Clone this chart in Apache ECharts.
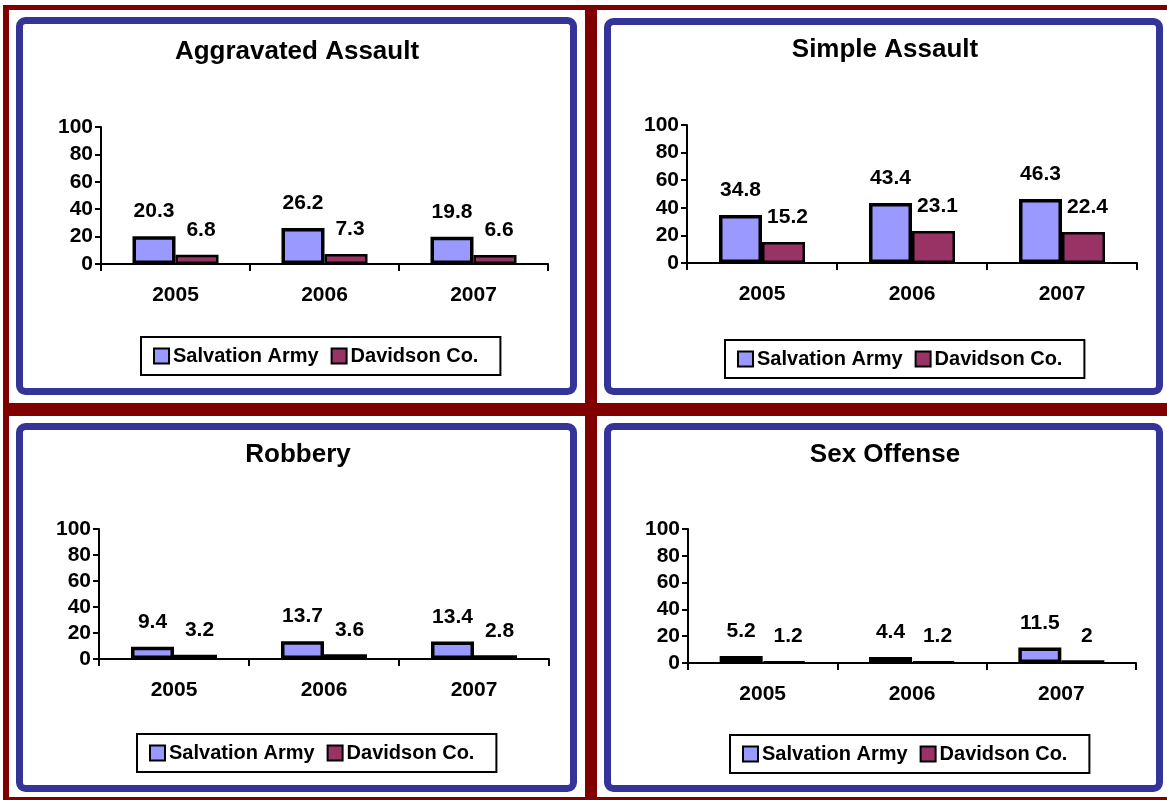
<!DOCTYPE html>
<html>
<head>
<meta charset="utf-8">
<script src="https://cdn.jsdelivr.net/npm/echarts@6/dist/echarts.min.js"></script>
<style>
html,body{margin:0;padding:0;background:#fff;}
#c{width:1167px;height:800px;}
</style>
</head>
<body>
<div id="c"></div>
<script>
// ---- data ----
const categories = ['2005', '2006', '2007'];
const seriesNames = ['Salvation Army', 'Davidson Co.'];
const chartTitles = ['Aggravated Assault', 'Simple Assault', 'Robbery', 'Sex Offense'];
const aggravatedSA = [20.3, 26.2, 19.8];
const aggravatedDC = [6.8, 7.3, 6.6];
const simpleSA = [34.8, 43.4, 46.3];
const simpleDC = [15.2, 23.1, 22.4];
const robberySA = [9.4, 13.7, 13.4];
const robberyDC = [3.2, 3.6, 2.8];
const sexSA = [5.2, 4.4, 11.5];
const sexDC = [1.2, 1.2, 2];
const yMin = 0, yMax = 100, yStep = 20;

// ---- layout ----
const FONT = '"Liberation Sans", Arial, sans-serif';
const RED = '#800000';
const BLUE = '#333399';
const SA_COLOR = '#9999FF';
const DC_COLOR = '#993366';

const panels = [
  {box: [16, 17, 577, 395], title: [297, 52], grid: {left: 101, top: 127, width: 447, height: 137}, legend: {left: 141, top: 337}, sa: aggravatedSA, dc: aggravatedDC},
  {box: [604, 18, 1163, 395], title: [885, 50], grid: {left: 687, top: 125, width: 450, height: 138}, legend: {left: 725, top: 340}, sa: simpleSA, dc: simpleDC},
  {box: [16, 423, 577, 792], title: [298, 455], grid: {left: 99, top: 529, width: 450, height: 130}, legend: {left: 137, top: 734}, sa: robberySA, dc: robberyDC},
  {box: [604, 423, 1163, 792], title: [885, 455], grid: {left: 688, top: 529, width: 448, height: 134}, legend: {left: 730, top: 735}, sa: sexSA, dc: sexDC}
];

const graphics = [];
// dark red frame lines
graphics.push({type: 'rect', shape: {x: 3, y: 5, width: 1164, height: 5}, style: {fill: RED}, z: 0});
graphics.push({type: 'rect', shape: {x: 3, y: 5, width: 6, height: 795}, style: {fill: RED}, z: 0});
graphics.push({type: 'rect', shape: {x: 585, y: 5, width: 12, height: 795}, style: {fill: RED}, z: 0});
graphics.push({type: 'rect', shape: {x: 3, y: 403, width: 1164, height: 13}, style: {fill: RED}, z: 0});
graphics.push({type: 'rect', shape: {x: 3, y: 797, width: 1164, height: 3}, style: {fill: RED}, z: 0});

const grids = [], xAxes = [], yAxes = [], series = [], legends = [];
panels.forEach((p, i) => {
  const [x1, y1, x2, y2] = p.box;
  graphics.push({type: 'rect', shape: {x: x1 + 3.5, y: y1 + 3.5, width: x2 - x1 - 7, height: y2 - y1 - 7, r: 6},
    style: {fill: '#fff', stroke: BLUE, lineWidth: 7}, z: 0});
  graphics.push({type: 'text', x: p.title[0], y: p.title[1], z: 1,
    style: {text: chartTitles[i], fill: '#000', font: 'bold 26px ' + FONT, textAlign: 'center', textVerticalAlign: 'middle'}});
  grids.push(Object.assign({containLabel: false}, p.grid));
  xAxes.push({type: 'category', gridIndex: i, data: categories,
    axisLine: {lineStyle: {color: '#000', width: 2}},
    axisTick: {show: true, length: 7, lineStyle: {color: '#000', width: 2}},
    axisLabel: {color: '#000', fontFamily: FONT, fontWeight: 'bold', fontSize: 21, margin: 21},
    splitLine: {show: false}});
  yAxes.push({type: 'value', gridIndex: i, min: yMin, max: yMax, interval: yStep,
    axisLine: {show: true, lineStyle: {color: '#000', width: 2}},
    axisTick: {show: true, length: 6, lineStyle: {color: '#000', width: 2}},
    axisLabel: {color: '#000', fontFamily: FONT, fontWeight: 'bold', fontSize: 21, margin: 8},
    splitLine: {show: false}});
  const lbl = {show: true, position: 'top', distance: 14, color: '#000', fontFamily: FONT, fontWeight: 'bold', fontSize: 21};
  series.push({type: 'bar', name: seriesNames[0], xAxisIndex: i, yAxisIndex: i, data: p.sa,
    barWidth: 43, barGap: '0%',
    itemStyle: {color: SA_COLOR, borderColor: '#000', borderWidth: 3.5},
    label: lbl, emphasis: {disabled: true}});
  series.push({type: 'bar', name: seriesNames[1], xAxisIndex: i, yAxisIndex: i, data: p.dc,
    barWidth: 43, barGap: '0%',
    itemStyle: {color: DC_COLOR, borderColor: '#000', borderWidth: 2.5},
    label: Object.assign({}, lbl, {offset: [4, 0]}), emphasis: {disabled: true}});
  legends.push({left: p.legend.left, top: p.legend.top, orient: 'horizontal',
    data: seriesNames, icon: 'rect', itemWidth: 15, itemHeight: 15, itemGap: 12,
    padding: [9, 22, 9, 12], borderColor: '#000', borderWidth: 2, backgroundColor: '#fff',
    selectedMode: false,
    textStyle: {color: '#000', fontFamily: FONT, fontWeight: 'bold', fontSize: 20, padding: [0, 0, 0, -1]}});
});

const chart = echarts.init(document.getElementById('c'), null, {renderer: 'canvas'});
chart.setOption({
  animation: false,
  backgroundColor: '#fff',
  graphic: {elements: graphics},
  grid: grids,
  xAxis: xAxes,
  yAxis: yAxes,
  legend: legends,
  series: series
});
</script>
</body>
</html>
